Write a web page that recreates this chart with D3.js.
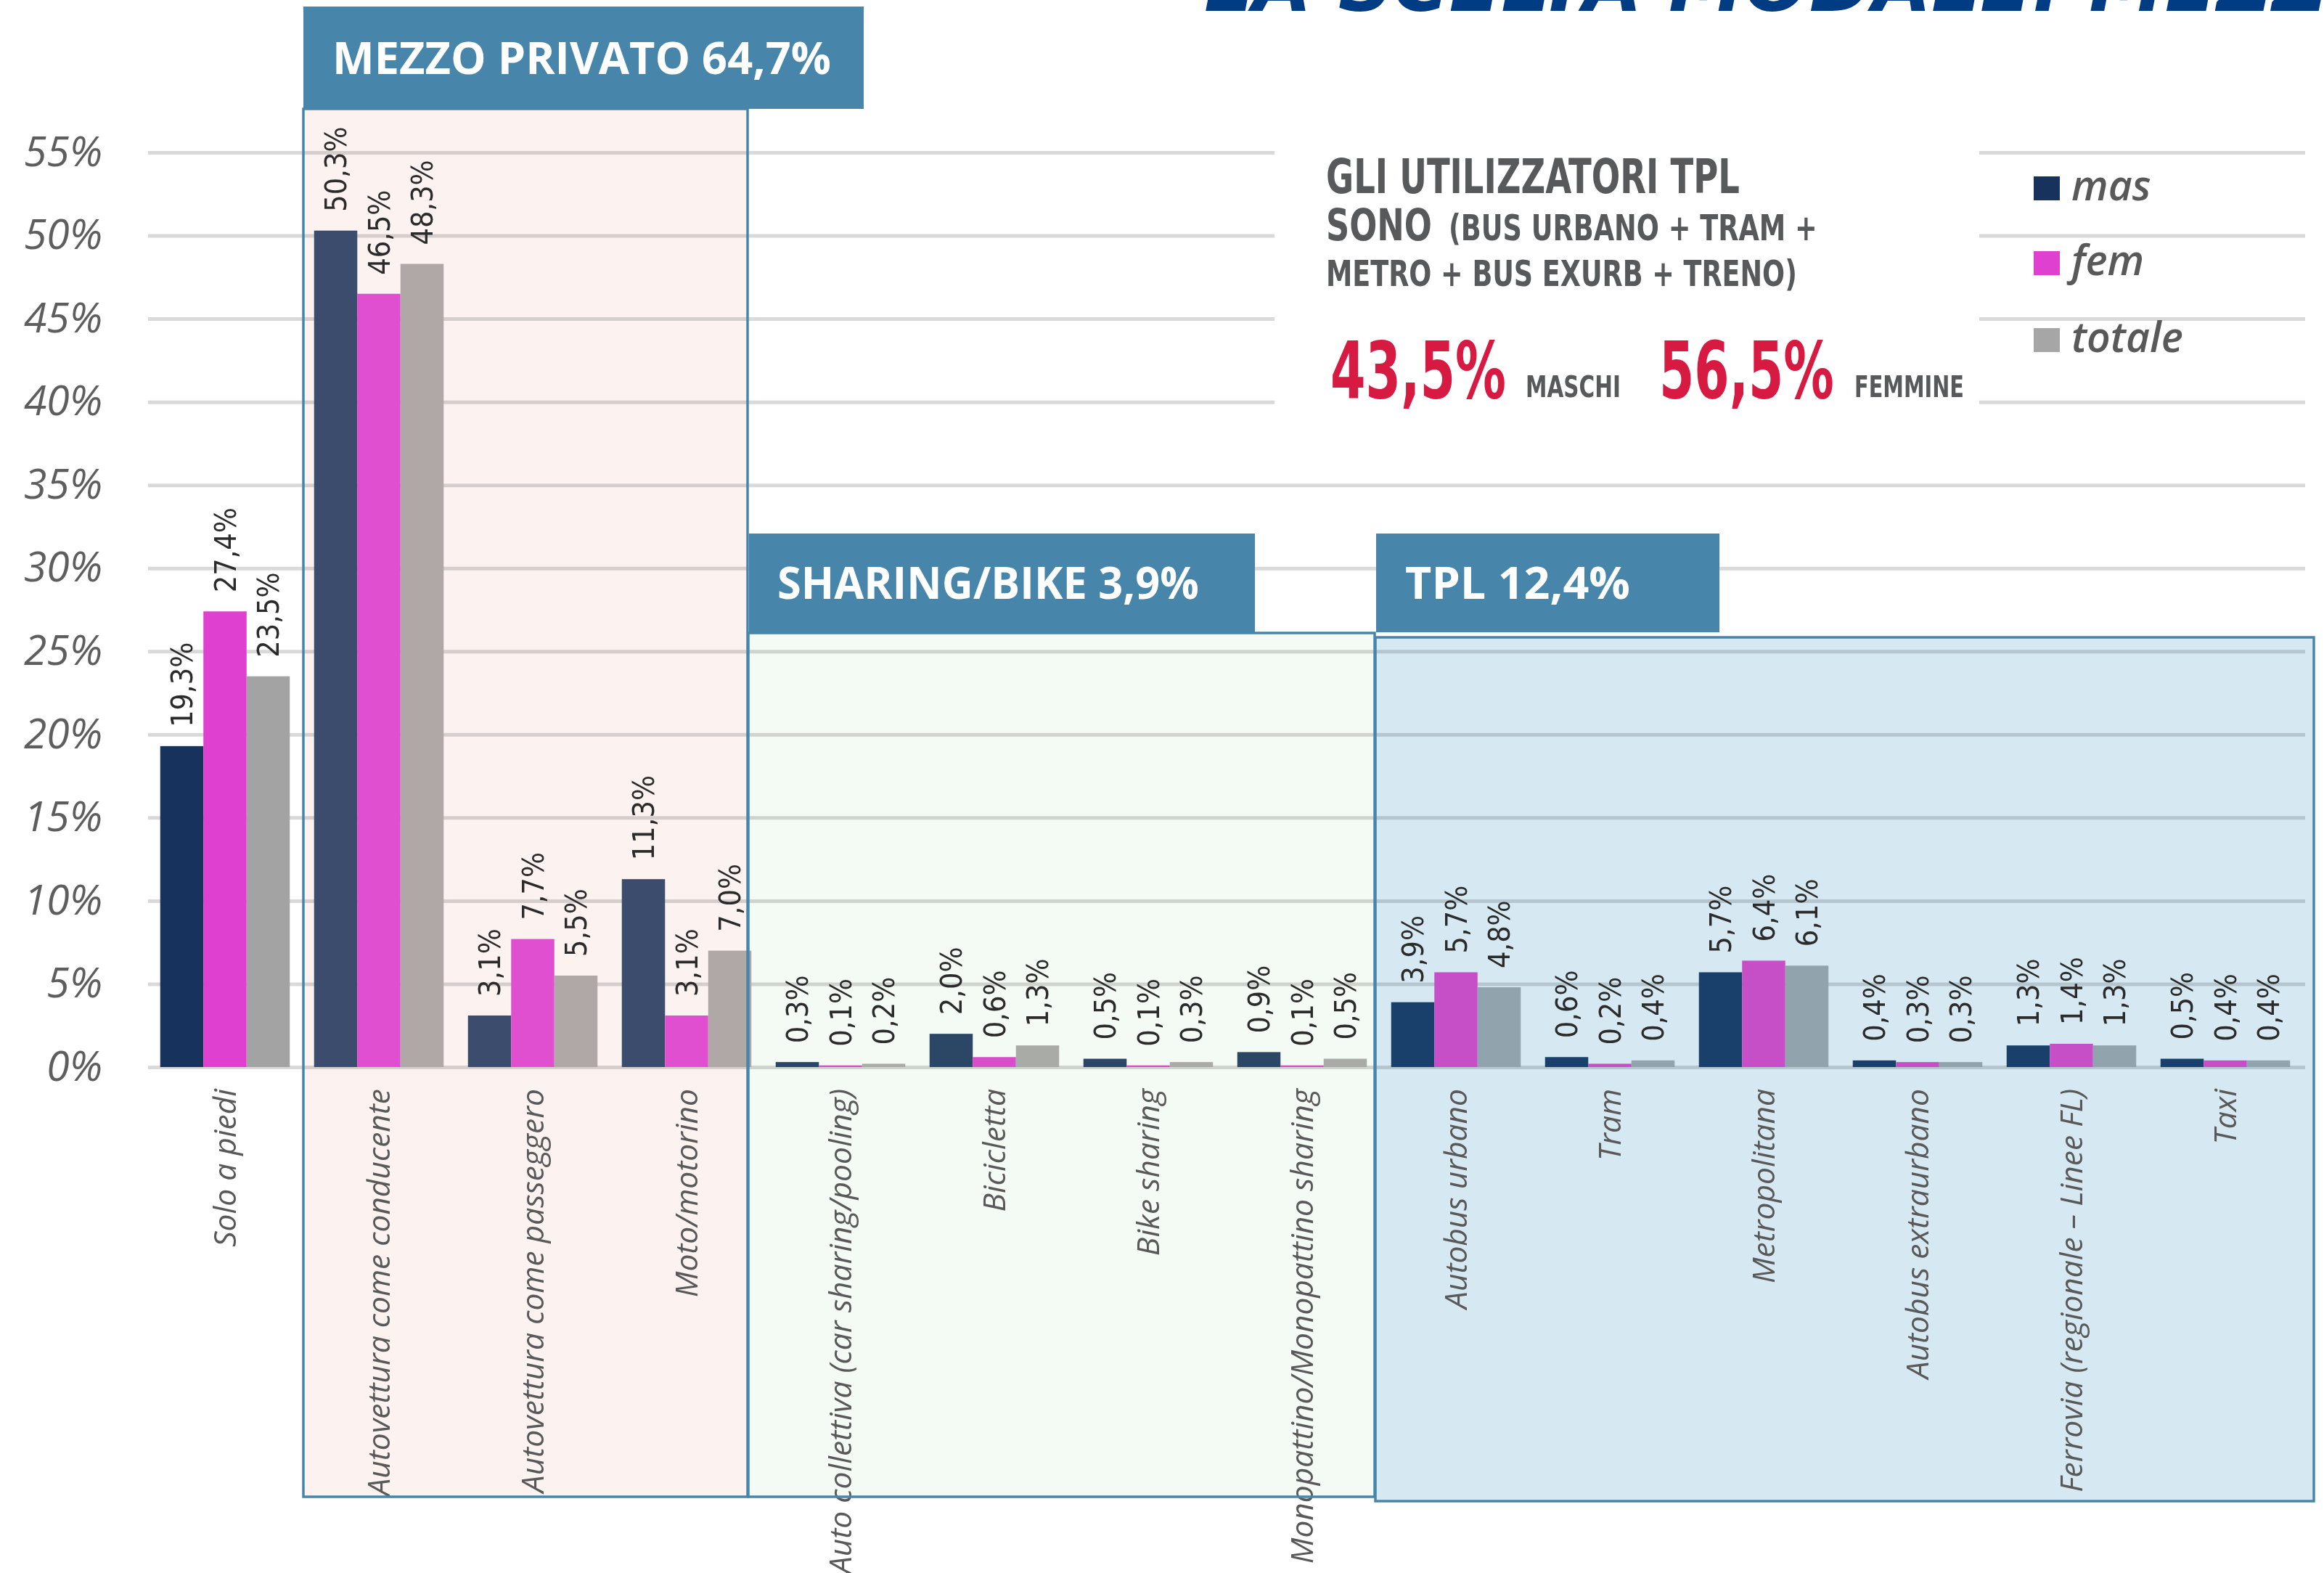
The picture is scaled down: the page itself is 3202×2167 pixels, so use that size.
<!DOCTYPE html>
<html>
<head>
<meta charset="utf-8">
<script src="https://cdn.jsdelivr.net/npm/d3@7"></script>
<style>
  html, body { margin: 0; padding: 0; background: #ffffff; }
  svg { display: block; }
</style>
</head>
<body>
<svg id="chart" width="3202" height="2167"></svg>
<script>
// ---------------- DATA ----------------
const categories = [
  "Solo a piedi",
  "Autovettura come conducente",
  "Autovettura come passeggero",
  "Moto/motorino",
  "Auto collettiva (car sharing/pooling)",
  "Bicicletta",
  "Bike sharing",
  "Monopattino/Monopattino sharing",
  "Autobus urbano",
  "Tram",
  "Metropolitana",
  "Autobus extraurbano",
  "Ferrovia (regionale – Linee FL)",
  "Taxi"
];
const seriesNames = ["mas", "fem", "totale"];
const masValues    = [19.3, 50.3, 3.1, 11.3, 0.3, 2.0, 0.5, 0.9, 3.9, 0.6, 5.7, 0.4, 1.3, 0.5];
const femValues    = [27.4, 46.5, 7.7, 3.1, 0.1, 0.6, 0.1, 0.1, 5.7, 0.2, 6.4, 0.3, 1.4, 0.4];
const totaleValues = [23.5, 48.3, 5.5, 7.0, 0.2, 1.3, 0.3, 0.5, 4.8, 0.4, 6.1, 0.3, 1.3, 0.4];
const regionOf = ["none", "privato", "privato", "privato",
                  "sharing", "sharing", "sharing", "sharing",
                  "tpl", "tpl", "tpl", "tpl", "tpl", "tpl"];
const yTickValues = [0, 5, 10, 15, 20, 25, 30, 35, 40, 45, 50, 55];
const groupHeaders = [
  { key: "privato", label: "MEZZO PRIVATO 64,7%" },
  { key: "sharing", label: "SHARING/BIKE 3,9%" },
  { key: "tpl",     label: "TPL 12,4%" }
];
const titleText = "LA SCELTA MODALE: MEZZI";
const boxLine1 = "GLI UTILIZZATORI TPL";
const boxLine2a = "SONO";
const boxLine2b = "(BUS URBANO + TRAM +";
const boxLine3 = "METRO + BUS EXURB + TRENO)";
const tplMaschi = "43,5%";
const tplFemmine = "56,5%";

// ---------------- STYLE ----------------
const barColors = {
  none:    { mas: "#17325c", fem: "#e040cf", totale: "#a3a3a3" },
  privato: { mas: "#3b4c6c", fem: "#e04fcf", totale: "#b0a8a6" },
  sharing: { mas: "#2c4766", fem: "#d64fc9", totale: "#a9aba7" },
  tpl:     { mas: "#18406a", fem: "#c64fc8", totale: "#91a4ad" }
};
const legendColors = { mas: "#17325c", fem: "#e040cf", totale: "#a6a6a6" };
const headerBlue = "#4885aa";
const regionFill = { privato: "#fcf3f1", sharing: "#f4faf4", tpl: "#d6e9f3" };

const svg = d3.select("#chart");
const W = 3202, H = 2167;
svg.append("rect").attr("width", W).attr("height", H).attr("fill", "#ffffff");

// squeeze/stretch a text horizontally so that it spans exactly `width`
function fitWidth(sel, xx, yy, width) {
  sel.each(function () {
    const len = this.getComputedTextLength();
    const sx = len > 0 ? width / len : 1;
    d3.select(this).attr("x", 0).attr("y", 0)
      .attr("transform", `translate(${xx},${yy}) scale(${sx},1)`);
  });
  return sel;
}

// ---------------- SCALES ----------------
const x0 = d3.scaleBand().domain(categories).range([204, 3172])
  .paddingInner(0.158).paddingOuter(0.079);
const x1 = d3.scaleBand().domain(seriesNames).range([0, x0.bandwidth()]);
const y = d3.scaleLinear().domain([0, 55]).range([1470, 210]);
const step = x0.step();
const bnd = i => x0.range()[0] + i * step;   // band boundaries

const rows = categories.map((c, i) => ({
  cat: c, region: regionOf[i],
  vals: [
    { s: "mas", v: masValues[i] },
    { s: "fem", v: femValues[i] },
    { s: "totale", v: totaleValues[i] }
  ]
}));

// ---------------- TITLE (cut at top, as in the source) ----------------
svg.append("text")
  .attr("x", 1659).attr("y", 15)
  .attr("font-family", "DejaVu Sans, sans-serif")
  .attr("font-weight", 700).attr("font-style", "italic")
  .attr("font-size", 105).attr("fill", "#003c84")
  .text(titleText);

// ---------------- REGIONS (fills) ----------------
const regions = [
  { key: "privato", xa: bnd(1) + 2,  xb: bnd(4) - 22, ya: 150, yb: 2062 },
  { key: "sharing", xa: bnd(4) - 21, xb: bnd(8) - 6,  ya: 872, yb: 2062 },
  { key: "tpl",     xa: bnd(8) - 5,  xb: bnd(14) + 16, ya: 878, yb: 2068 }
];
svg.append("g").selectAll("rect").data(regions).join("rect")
  .attr("x", d => d.xa).attr("y", d => d.ya)
  .attr("width", d => d.xb - d.xa).attr("height", d => d.yb - d.ya)
  .attr("fill", d => regionFill[d.key]);

// ---------------- Y AXIS + GRID ----------------
const yAxis = d3.axisLeft(y)
  .tickValues(yTickValues)
  .tickFormat(d => d + "%")
  .tickSizeInner(-(x0.range()[1] - x0.range()[0] + 4))
  .tickSizeOuter(0)
  .tickPadding(63);
const gy = svg.append("g").attr("transform", `translate(${x0.range()[0]},0)`).call(yAxis);
gy.select(".domain").remove();
gy.selectAll(".tick line")
  .attr("stroke", "#d9d9d9").attr("stroke-width", 5)
  .style("mix-blend-mode", "multiply");
gy.selectAll(".tick text")
  .attr("font-family", "Open Sans, sans-serif")
  .attr("font-style", "italic").attr("font-weight", 400)
  .attr("font-size", 57).attr("fill", "#5e5e5e");

// ---------------- TEXT BOX ----------------
svg.append("rect").attr("x", 1756).attr("y", 195).attr("width", 971).attr("height", 390).attr("fill", "#ffffff");
const condensed = "DejaVu Sans Condensed, DejaVu Sans, sans-serif";

function boxText(t, xx, yy, size, len, color) {
  const s = svg.append("text")
    .attr("font-family", condensed).attr("font-weight", 700)
    .attr("font-stretch", "condensed")
    .attr("font-size", size).attr("fill", color)
    .text(t);
  fitWidth(s, xx, yy, len);
}
boxText(boxLine1, 1827, 266, 66, 570, "#58595b");
boxText(boxLine2a, 1827, 331, 60, 146, "#58595b");
boxText(boxLine2b, 1996, 331, 50, 508, "#58595b");
boxText(boxLine3, 1827, 394, 50, 649, "#58595b");
boxText(tplMaschi, 1833, 548, 108, 242, "#d71a41");
boxText("MASCHI", 2102, 547, 41, 131, "#58595b");
boxText(tplFemmine, 2286, 548, 108, 241, "#d71a41");
boxText("FEMMINE", 2555, 547, 41, 151, "#58595b");

// ---------------- LEGEND ----------------
const legendY = { mas: 243, fem: 346, totale: 452 };
const lg = svg.append("g");
lg.selectAll("rect").data(seriesNames).join("rect")
  .attr("x", 2802).attr("y", d => legendY[d])
  .attr("width", 36).attr("height", 33)
  .attr("fill", d => legendColors[d]);
lg.selectAll("text").data(seriesNames).join("text")
  .attr("x", 2854).attr("y", d => legendY[d] + 33)
  .attr("font-family", "Open Sans, sans-serif")
  .attr("font-style", "italic").attr("font-weight", 600)
  .attr("font-size", 57).attr("fill", "#595959")
  .text(d => d);

// ---------------- BARS ----------------
const groups = svg.append("g").selectAll("g").data(rows).join("g")
  .attr("transform", d => `translate(${x0(d.cat)},0)`);
groups.selectAll("rect").data(d => d.vals.map(o => ({ ...o, region: d.region }))).join("rect")
  .attr("x", d => x1(d.s))
  .attr("y", d => y(d.v))
  .attr("width", x1.bandwidth())
  .attr("height", d => y(0) - y(d.v))
  .attr("fill", d => barColors[d.region][d.s]);

// ---------------- VALUE LABELS ----------------
groups.selectAll("text").data(d => d.vals).join("text")
  .attr("transform", d => `translate(${x1(d.s) + x1.bandwidth() / 2},${y(d.v) - 26}) rotate(-90)`)
  .attr("dy", "0.36em")
  .attr("text-anchor", "start")
  .attr("font-family", "DejaVu Sans Condensed, DejaVu Sans, sans-serif")
  .attr("font-stretch", "condensed")
  .attr("font-size", 41).attr("fill", "#2b2b2b")
  .text(d => d.v.toFixed(1).replace(".", ",") + "%");

// ---------------- CATEGORY AXIS ----------------
const xAxis = d3.axisBottom(x0).tickSize(0).tickPadding(0);
const gx = svg.append("g").attr("transform", `translate(0,${y(0)})`).call(xAxis);
gx.select(".domain").remove();
gx.selectAll(".tick text")
  .attr("y", 0).attr("x", 0)
  .attr("transform", "translate(0,30) rotate(-90)")
  .attr("dy", "0.36em")
  .attr("text-anchor", "end")
  .attr("font-family", "Open Sans, sans-serif")
  .attr("font-style", "italic")
  .attr("font-size", 42.5).attr("fill", "#595959");

// ---------------- REGION BORDERS ----------------
svg.append("g").selectAll("rect").data(regions).join("rect")
  .attr("x", d => d.xa).attr("y", d => d.ya)
  .attr("width", d => d.xb - d.xa).attr("height", d => d.yb - d.ya)
  .attr("fill", "none").attr("stroke", headerBlue).attr("stroke-width", 3.5);

// ---------------- HEADERS ----------------
const headerBoxes = {
  privato: { xa: bnd(1) + 2,  xb: 1190, ya: 9,   yb: 150, tx: 458,  ty: 102, len: 687 },
  sharing: { xa: bnd(4) - 20, xb: 1729, ya: 735, yb: 871, tx: 1071, ty: 825, len: 581 },
  tpl:     { xa: bnd(8) - 4,  xb: 2369, ya: 735, yb: 871, tx: 1936, ty: 825, len: 310 }
};
const hg = svg.append("g").selectAll("g").data(groupHeaders).join("g");
hg.append("rect")
  .attr("x", d => headerBoxes[d.key].xa).attr("y", d => headerBoxes[d.key].ya)
  .attr("width", d => headerBoxes[d.key].xb - headerBoxes[d.key].xa)
  .attr("height", d => headerBoxes[d.key].yb - headerBoxes[d.key].ya)
  .attr("fill", headerBlue);
hg.append("text")
  .attr("font-family", "Open Sans, sans-serif").attr("font-weight", 700)
  .attr("font-size", 61).attr("fill", "#ffffff")
  .text(d => d.label)
  .each(function (d) {
    const b = headerBoxes[d.key];
    fitWidth(d3.select(this), b.tx, b.ty, b.len);
  });
</script>
</body>
</html>
